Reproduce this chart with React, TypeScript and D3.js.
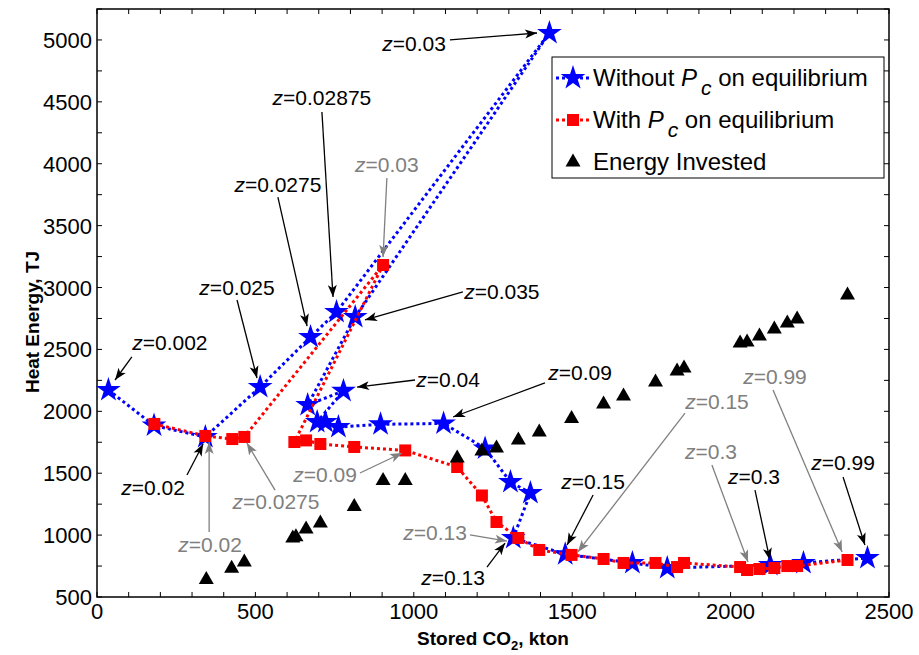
import React from 'react';
import * as d3 from 'd3';

const width = 919;
const height = 655;
const margin = { top: 9, right: 30, bottom: 58, left: 97 };

const xTicks = [0, 500, 1000, 1500, 2000, 2500];
const yTicks = [500, 1000, 1500, 2000, 2500, 3000, 3500, 4000, 4500, 5000];

// Without Pc on equilibrium (in z order)
const withoutX = [36, 180, 342, 515, 674, 756, 1428, 815, 665, 778, 695, 721, 762, 895, 1094, 1225, 1305, 1368, 1314, 1478, 1690, 1800, 2125, 2230, 2432];
const withoutY = [2172, 1885, 1793, 2197, 2600, 2802, 5056, 2762, 2051, 2165, 1914, 1914, 1873, 1895, 1902, 1700, 1429, 1340, 977, 845, 775, 734, 758, 775, 815];

// With Pc on equilibrium
const withX = [181, 342, 427, 465, 903, 623, 660, 705, 812, 973, 1137, 1215, 1261, 1330, 1396, 1498, 1599, 1662, 1763, 1831, 1853, 2030, 2052, 2091, 2138, 2179, 2210, 2369];
const withY = [1898, 1801, 1776, 1793, 3182, 1752, 1765, 1736, 1712, 1684, 1550, 1320, 1106, 977, 880, 840, 807, 775, 775, 742, 775, 742, 718, 726, 734, 750, 750, 799];

// Energy invested
const energyX = [345, 425, 465, 618, 628, 660, 705, 812, 903, 973, 1137, 1215, 1261, 1330, 1396, 1498, 1599, 1662, 1763, 1831, 1853, 2030, 2052, 2091, 2138, 2179, 2210, 2369];
const energyY = [650, 740, 790, 985, 995, 1057, 1106, 1240, 1450, 1450, 1631, 1688, 1712, 1776, 1841, 1950, 2067, 2132, 2245, 2334, 2358, 2560, 2568, 2617, 2673, 2722, 2754, 2948];

// annotations: label, colour, label centre, arrow tail, arrow head (data units)
const notes = [
  { z: '0.03', c: 'black', lx: 1001, ly: 4967, tx: 1114, ty: 5000, hx: 1389, hy: 5056 },
  { z: '0.02875', c: 'black', lx: 710, ly: 4531, tx: 710, ty: 4418, hx: 745, hy: 2923 },
  { z: '0.0275', c: 'black', lx: 571, ly: 3828, tx: 571, ty: 3731, hx: 663, hy: 2689 },
  { z: '0.025', c: 'black', lx: 442, ly: 2996, tx: 442, ty: 2899, hx: 505, hy: 2269 },
  { z: '0.002', c: 'black', lx: 230, ly: 2552, tx: 110, ty: 2439, hx: 57, hy: 2253 },
  { z: '0.02', c: 'black', lx: 177, ly: 1380, tx: 284, ty: 1486, hx: 335, hy: 1736 },
  { z: '0.02', c: 'gray', lx: 357, ly: 920, tx: 354, ty: 1025, hx: 354, hy: 1752 },
  { z: '0.0275', c: 'gray', lx: 565, ly: 1267, tx: 562, ty: 1364, hx: 473, hy: 1744 },
  { z: '0.09', c: 'gray', lx: 720, ly: 1486, tx: 830, ty: 1502, hx: 963, hy: 1663 },
  { z: '0.13', c: 'gray', lx: 1067, ly: 1017, tx: 1177, ty: 1001, hx: 1294, hy: 952 },
  { z: '0.04', c: 'black', lx: 1108, ly: 2253, tx: 1004, ty: 2253, hx: 821, hy: 2196 },
  { z: '0.035', c: 'black', lx: 1278, ly: 2964, tx: 1155, ty: 2964, hx: 846, hy: 2738 },
  { z: '0.09', c: 'black', lx: 1525, ly: 2309, tx: 1414, ty: 2229, hx: 1124, hy: 1954 },
  { z: '0.13', c: 'black', lx: 1124, ly: 653, tx: 1231, ty: 742, hx: 1288, hy: 936 },
  { z: '0.15', c: 'black', lx: 1566, ly: 1429, tx: 1566, ty: 1324, hx: 1484, hy: 920 },
  { z: '0.15', c: 'gray', lx: 1957, ly: 2075, tx: 1856, ty: 1986, hx: 1518, hy: 864 },
  { z: '0.3', c: 'gray', lx: 1938, ly: 1671, tx: 1941, ty: 1566, hx: 2055, hy: 783 },
  { z: '0.3', c: 'black', lx: 2074, ly: 1469, tx: 2077, ty: 1364, hx: 2124, hy: 799 },
  { z: '0.99', c: 'black', lx: 2355, ly: 1582, tx: 2355, ty: 1469, hx: 2424, hy: 920 },
  { z: '0.99', c: 'gray', lx: 2140, ly: 2277, tx: 2134, ty: 2172, hx: 2352, hy: 864 },
  { z: '0.03', c: 'gray', lx: 915, ly: 3990, tx: 915, ty: 3885, hx: 903, hy: 3247 },
];

const FONT = '"Liberation Sans", Arial, Helvetica, sans-serif';
const GRAY = '#808080';

function arrowHead(x1: number, y1: number, x2: number, y2: number) {
  const a = Math.atan2(y2 - y1, x2 - x1);
  const len = 12, half = 4.5, notch = 3;
  const ca = Math.cos(a), sa = Math.sin(a);
  const bx = x2 - len * ca, by = y2 - len * sa;
  const p1 = [bx - half * sa, by + half * ca];
  const p2 = [bx + half * sa, by - half * ca];
  const n = [x2 - (len - notch) * ca, y2 - (len - notch) * sa];
  return `M${x2},${y2}L${p1[0]},${p1[1]}L${n[0]},${n[1]}L${p2[0]},${p2[1]}Z`;
}

export default function App() {
  const x = d3.scaleLinear().domain([0, 2500]).range([margin.left, width - margin.right]);
  const y = d3.scaleLinear().domain([500, 5250]).range([height - margin.bottom, margin.top]);
  const x0 = margin.left, x1 = width - margin.right;
  const y0 = height - margin.bottom, y1 = margin.top;

  const star = d3.symbol().type(d3.symbolStar).size(190)();
  const tri = 'M0,-7.5L7.5,5.5L-7.5,5.5Z';

  const withoutPath = d3.line<number>().x(i => x(withoutX[i])).y(i => y(withoutY[i]))(withoutX.map((_, i) => i));
  const withPath = d3.line<number>().x(i => x(withX[i])).y(i => y(withY[i]))(withX.map((_, i) => i));

  const xMinor = d3.range(0, 2501, 100);
  const yMinor = d3.range(500, 5251, 250);
  const tk = 5;

  const dotted = { fill: 'none', strokeWidth: 3, strokeDasharray: '3,3' };

  return (
    <svg width={width} height={height} style={{ position: 'absolute', left: 0, top: 0, background: 'white' }} fontFamily={FONT}>
      <rect x={0} y={0} width={width} height={height} fill="white" />

      {/* ticks, mirrored on all sides */}
      <g stroke="black" strokeWidth={1}>
        {xMinor.map(v => (
          <g key={'xt' + v}>
            <line x1={x(v)} x2={x(v)} y1={y0} y2={y0 - tk} />
            <line x1={x(v)} x2={x(v)} y1={y1} y2={y1 + tk} />
          </g>
        ))}
        {yMinor.map(v => (
          <g key={'yt' + v}>
            <line x1={x0} x2={x0 + tk} y1={y(v)} y2={y(v)} />
            <line x1={x1} x2={x1 - tk} y1={y(v)} y2={y(v)} />
          </g>
        ))}
      </g>
      <rect x={x0} y={y1} width={x1 - x0} height={y0 - y1} fill="none" stroke="black" strokeWidth={1.5} />

      <g fontSize={22} fill="black">
        {xTicks.map(v => (
          <text key={'xl' + v} x={x(v)} y={y0 + 22} textAnchor="middle">{v}</text>
        ))}
        {yTicks.map(v => (
          <text key={'yl' + v} x={x0 - 5} y={y(v) + 8} textAnchor="end">{v}</text>
        ))}
      </g>

      <text x={(x0 + x1) / 2} y={645} textAnchor="middle" fontSize={19} fontWeight="bold">
        Stored CO<tspan dy={5} fontSize={13}>2</tspan><tspan dy={-5}>, kton</tspan>
      </text>
      <text transform={`translate(39,${322}) rotate(-90)`} textAnchor="middle" fontSize={19} fontWeight="bold">
        Heat Energy, TJ
      </text>

      {/* series */}
      <path d={withoutPath || ''} stroke="#0000ff" {...dotted} />
      {withoutX.map((v, i) => (
        <path key={'s' + i} d={star || ''} transform={`translate(${x(v)},${y(withoutY[i])})`} fill="#0000ff" />
      ))}
      <path d={withPath || ''} stroke="#ff0000" {...dotted} />
      {withX.map((v, i) => (
        <rect key={'q' + i} x={x(v) - 6} y={y(withY[i]) - 6} width={12} height={12} fill="#ff0000" />
      ))}
      {energyX.map((v, i) => (
        <path key={'t' + i} d={tri} transform={`translate(${x(v)},${y(energyY[i])})`} fill="black" />
      ))}

      {/* annotations */}
      {notes.map((n, i) => {
        const col = n.c === 'gray' ? GRAY : 'black';
        const ax = x(n.tx), ay = y(n.ty), bx = x(n.hx), by = y(n.hy);
        return (
          <g key={'n' + i}>
            <line x1={ax} y1={ay} x2={bx} y2={by} stroke={col} strokeWidth={1.3} />
            <path d={arrowHead(ax, ay, bx, by)} fill={col} />
            <text x={x(n.lx)} y={y(n.ly) + 7} textAnchor="middle" fontSize={21} fill={col}>
              <tspan fontStyle="italic">z</tspan>={n.z}
            </text>
          </g>
        );
      })}

      {/* legend */}
      <g>
        <rect x={552} y={57} width={332} height={121} fill="white" stroke="black" strokeWidth={1} />
        <line x1={556} x2={590} y1={78} y2={78} stroke="#0000ff" {...dotted} />
        <path d={star || ''} transform="translate(573,78)" fill="#0000ff" />
        <text x={593} y={86} fontSize={24}>
          Without <tspan fontStyle="italic">P</tspan><tspan fontStyle="italic" fontSize={21} dy={9} dx={4}>c</tspan><tspan dy={-9}> on equilibrium</tspan>
        </text>
        <line x1={556} x2={590} y1={120} y2={120} stroke="#ff0000" {...dotted} />
        <rect x={567} y={114} width={12} height={12} fill="#ff0000" />
        <text x={593} y={128} fontSize={24}>
          With <tspan fontStyle="italic">P</tspan><tspan fontStyle="italic" fontSize={21} dy={9} dx={4}>c</tspan><tspan dy={-9}> on equilibrium</tspan>
        </text>
        <path d={tri} transform="translate(573,161)" fill="black" />
        <text x={593} y={170} fontSize={24}>Energy Invested</text>
      </g>
    </svg>
  );
}
